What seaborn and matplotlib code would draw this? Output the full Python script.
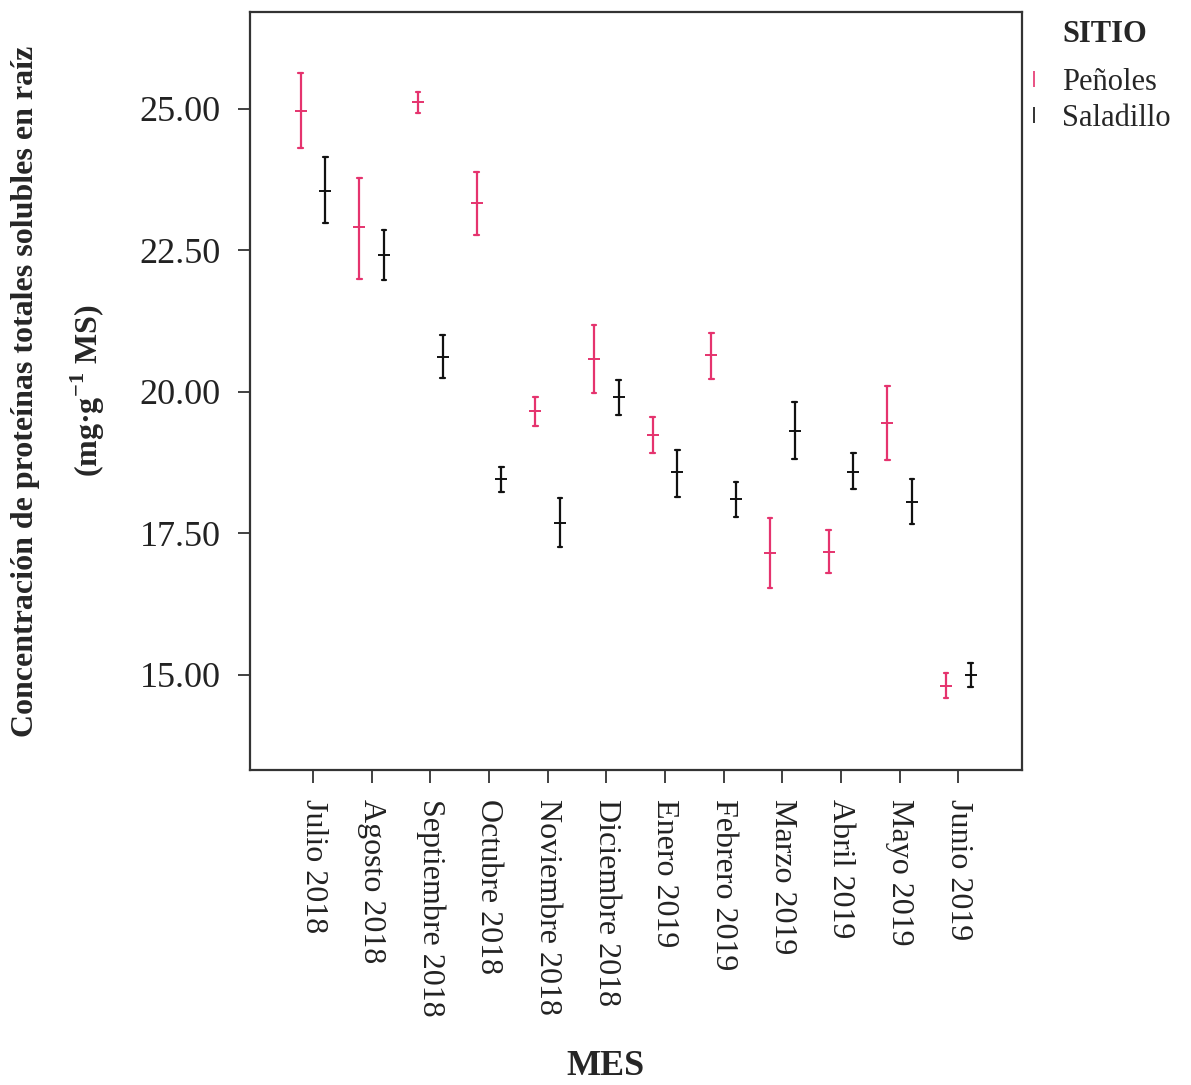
import numpy as np
import pandas as pd
import matplotlib
matplotlib.use("Agg")
import matplotlib.pyplot as plt
from matplotlib.lines import Line2D
from matplotlib.ticker import FormatStrFormatter
import seaborn as sns

# ── data ───────────────────────────────────────────────────────────
months = ["Julio 2018", "Agosto 2018", "Septiembre 2018", "Octubre 2018",
          "Noviembre 2018", "Diciembre 2018", "Enero 2019", "Febrero 2019",
          "Marzo 2019", "Abril 2019", "Mayo 2019", "Junio 2019"]
sites = ["Peñoles", "Saladillo"]

pen_mean = [24.96, 22.92, 25.12, 23.33, 19.66, 20.58, 19.24, 20.65, 17.15, 17.17, 19.45, 14.81]
pen_lo = [24.31, 22.00, 24.93, 22.77, 19.40, 19.98, 18.92, 20.23, 16.54, 16.80, 18.80, 14.59]
pen_hi = [25.64, 23.78, 25.30, 23.89, 19.91, 21.18, 19.56, 21.04, 17.77, 17.56, 20.11, 15.04]

sal_mean = [23.55, 22.42, 20.62, 18.46, 17.69, 19.91, 18.59, 18.11, 19.31, 18.59, 18.06, 15.00]
sal_lo = [22.99, 21.98, 20.25, 18.23, 17.26, 19.59, 18.14, 17.79, 18.82, 18.29, 17.67, 14.79]
sal_hi = [24.15, 22.86, 21.00, 18.67, 18.13, 20.21, 18.98, 18.41, 19.82, 18.92, 18.46, 15.21]

site_colors = {"Peñoles": "#e5336e", "Saladillo": "#111111"}

# long table: lower, mean, upper per month/site -> median = mean, min/max = interval
rows = []
for site, mean, lo, hi in [("Peñoles", pen_mean, pen_lo, pen_hi),
                           ("Saladillo", sal_mean, sal_lo, sal_hi)]:
    for m, a, b, c in zip(months, lo, mean, hi):
        for v in (a, b, c):
            rows.append({"MES": m, "SITIO": site, "valor": v})
df = pd.DataFrame(rows)

sns.set_theme(style="white")
plt.rcParams["font.family"] = ["Liberation Serif", "DejaVu Serif"]
plt.rcParams["mathtext.fontset"] = "custom"
plt.rcParams["mathtext.rm"] = "Liberation Serif"
plt.rcParams["mathtext.bf"] = "Liberation Serif:bold"

fig = plt.figure(figsize=(11.91, 10.85), dpi=100)
ax = fig.add_axes([0.2099, 0.2903, 0.6483, 0.6986])

sns.pointplot(
    data=df, x="MES", y="valor", hue="SITIO",
    order=months, hue_order=sites, palette=site_colors,
    estimator="median", errorbar=("pi", 100),
    dodge=0.42, linestyles="none", markers="_",
    markersize=9, markeredgewidth=1.4,
    capsize=0.08, err_kws={"linewidth": 1.6},
    legend=False, ax=ax,
)

ax.set_xlim(-1.075, 12.09)
ax.set_ylim(13.32, 26.71)
ax.set_yticks([15, 17.5, 20, 22.5, 25])
ax.yaxis.set_major_formatter(FormatStrFormatter("%.2f"))

for sp in ax.spines.values():
    sp.set_visible(True)
    sp.set_color("#333333")
    sp.set_linewidth(1.6)

ax.tick_params(axis="y", direction="out", length=9, width=1.3, color="#333333",
               labelsize=26, pad=12, left=True, labelcolor="#222222")
ax.tick_params(axis="x", direction="out", length=9, width=1.3, color="#333333",
               labelsize=23, pad=12, bottom=True, labelcolor="#222222")
for lab in ax.get_xticklabels():
    lab.set_rotation(-90)
    lab.set_va("top")
    lab.set_ha("center")

ax.set_xlabel("MES", fontsize=26, fontweight="bold")
ax.xaxis.set_label_coords(0.46, -0.37)
ax.set_ylabel("Concentración de proteínas totales solubles en raíz\n"
              r"(mg·g$^{\mathbf{-1}}$ MS)",
              fontsize=23, fontweight="bold", linespacing=2.0)
ax.yaxis.set_label_coords(-0.185, 0.5)

handles = [Line2D([], [], color=site_colors[s], marker="|", linestyle="none",
                  markersize=12, markeredgewidth=1.2) for s in sites]
leg = ax.legend(handles, sites, title="SITIO", loc="upper left",
                bbox_to_anchor=(1.0, 0.998), frameon=False, fontsize=22,
                title_fontproperties={"weight": "bold", "size": 22},
                handlelength=0.4, handletextpad=0.7, labelspacing=0.22,
                borderaxespad=0.0, borderpad=0.2)
leg._legend_box.align = "left"
leg._legend_box.sep = 14
leg.get_title().set_x(34)

fig.savefig("out.png", dpi=100, facecolor="white")
